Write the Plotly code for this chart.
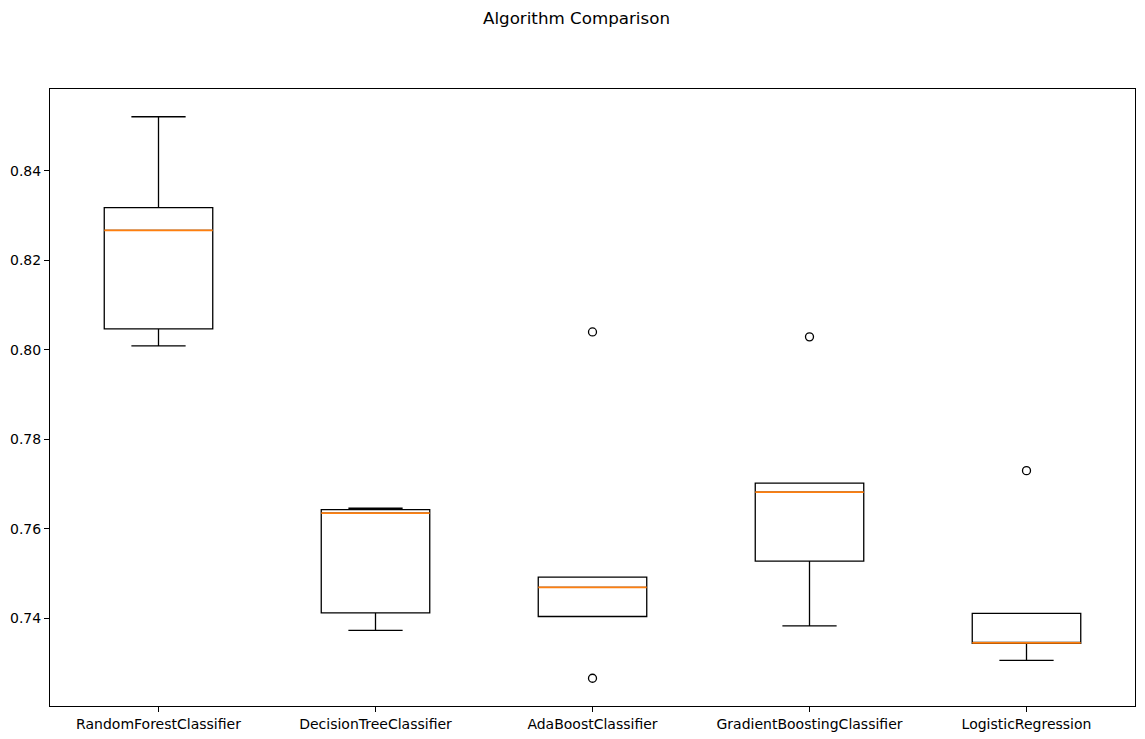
import numpy as np
import plotly.graph_objects as go

names = ["RandomForestClassifier", "DecisionTreeClassifier", "AdaBoostClassifier",
         "GradientBoostingClassifier", "LogisticRegression"]
rf_scores = [0.8009, 0.8047, 0.8267, 0.8318, 0.8521]
dt_scores = [0.7373, 0.7412, 0.7635, 0.7643, 0.7646]
ada_scores = [0.7266, 0.7404, 0.7469, 0.7492, 0.8040]
gb_scores = [0.7383, 0.7528, 0.7682, 0.7702, 0.8029]
lr_scores = [0.7306, 0.7344, 0.7345, 0.7411, 0.7730]
results = [rf_scores, dt_scores, ada_scores, gb_scores, lr_scores]
y_ticks = [0.74, 0.76, 0.78, 0.80, 0.82, 0.84]

fig = go.Figure()
positions = list(range(1, len(names) + 1))
for pos, scores in zip(positions, results):
    fig.add_trace(go.Box(
        x=[pos] * len(scores), y=scores,
        quartilemethod="inclusive",
        boxpoints="outliers", jitter=0, pointpos=0,
        width=0.5, whiskerwidth=0.5,
        fillcolor="rgba(0,0,0,0)",
        line=dict(color="black", width=1.3),
        marker=dict(symbol="circle-open", size=8, color="black",
                    line=dict(color="black", width=1.3)),
        showlegend=False,
    ))

mx, my = [], []
for pos, scores in zip(positions, results):
    med = float(np.median(scores))
    mx += [pos - 0.25, pos + 0.25, None]
    my += [med, med, None]
fig.add_trace(go.Scatter(x=mx, y=my, mode="lines",
                         line=dict(color="#ff7f0e", width=1.8),
                         showlegend=False, hoverinfo="skip"))

# page body has an 8px margin; compensate so the figure fills the 1145x739 window
W, H = 1137, 731
fig.update_layout(
    width=W, height=H,
    margin=dict(l=42, r=10, t=81, b=33),
    paper_bgcolor="white", plot_bgcolor="white",
    font=dict(family="DejaVu Sans", size=13, color="black"),
    title=dict(text="Algorithm Comparison", x=0.5, xanchor="center",
               y=1 - 10 / H, yanchor="middle",
               font=dict(family="DejaVu Sans", size=16.7, color="black")),
)
fig.update_xaxes(range=[0.5, 5.5], tickmode="array", tickvals=positions, ticktext=names,
                 automargin=False,
                 showgrid=False, zeroline=False, showline=True, linecolor="black",
                 linewidth=1, mirror=True, ticks="outside", ticklen=5, tickcolor="black",
                 tickfont=dict(size=14))
fig.update_yaxes(range=[0.7204, 0.8583], tickmode="array", tickvals=y_ticks,
                 tickformat=".2f", automargin=False,
                 showgrid=False, zeroline=False, showline=True, linecolor="black",
                 linewidth=1, mirror=True, ticks="outside", ticklen=5, tickcolor="black",
                 tickfont=dict(size=14))

fig.write_html("out.html")
